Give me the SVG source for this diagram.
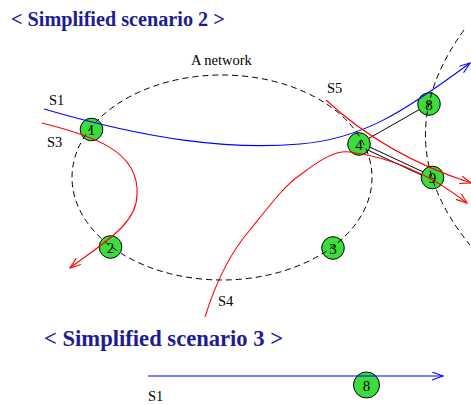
<svg xmlns="http://www.w3.org/2000/svg" width="471" height="405" viewBox="0 0 471 405">
<style>
.title{font-family:"Liberation Serif","Times New Roman",serif;font-weight:bold;fill:#1c1c96}
.lbl{font-family:"Liberation Serif","Times New Roman",serif;font-size:14.5px;fill:#000}
.node circle{fill:#3ddc3d;stroke:#000;stroke-width:1}
.node text{font-family:"Liberation Serif","Times New Roman",serif;font-size:15px;fill:#000;text-anchor:middle}
.dash{fill:none;stroke:#000;stroke-width:1;stroke-dasharray:6 4}
.link{stroke:#000;stroke-width:1;fill:none}
.blue{fill:none;stroke:#0000ff;stroke-width:1.1}
.red{fill:none;stroke:#ff0000;stroke-width:1.1}
</style>
<defs>
<marker id="ab" markerWidth="12" markerHeight="10" refX="11" refY="4" orient="auto" markerUnits="userSpaceOnUse">
<path d="M0,0 L11,4 L0,8" fill="none" stroke="#0000ff" stroke-width="1.1"/>
</marker>
<marker id="ar" markerWidth="12" markerHeight="10" refX="11" refY="4" orient="auto" markerUnits="userSpaceOnUse">
<path d="M0,0 L11,4 L0,8" fill="none" stroke="#ff0000" stroke-width="1.1"/>
</marker>
</defs>
<rect width="471" height="405" fill="#fff"/>
<text class="title" x="11" y="26" font-size="20.2">&lt; Simplified scenario 2 &gt;</text>
<text class="title" x="44" y="346" font-size="22.6">&lt; Simplified scenario 3 &gt;</text>
<text class="lbl" x="191" y="65">A network</text>
<text class="lbl" x="49" y="105">S1</text>
<text class="lbl" x="47" y="147">S3</text>
<text class="lbl" x="327" y="93">S5</text>
<text class="lbl" x="218" y="306">S4</text>
<text class="lbl" x="148" y="401">S1</text>
<g id="links">
<line class="link" x1="359" y1="144" x2="429" y2="104"/>
<line class="link" x1="359.8" y1="142.4" x2="432.8" y2="176.4"/>
<line class="link" x1="358.2" y1="145.6" x2="431.2" y2="179.6"/>
</g>
<g id="node1" class="node"><circle cx="91.5" cy="129.5" r="11.3"/><text x="91.5" y="135">1</text></g>
<g id="node2" class="node"><circle cx="110.5" cy="247" r="11.3"/><text x="110.5" y="252.5">2</text></g>
<g id="node3" class="node"><circle cx="333" cy="248" r="11.3"/><text x="333" y="253.5">3</text></g>
<g id="node4" class="node"><circle cx="359" cy="144" r="11.3"/><text x="359" y="149.5">4</text></g>
<g id="node8" class="node"><circle cx="429" cy="104" r="11.3"/><text x="429" y="109.5">8</text></g>
<g id="node9" class="node"><circle cx="432.5" cy="177.5" r="11.3"/><text x="432.5" y="183">9</text></g>
<g id="node8b" class="node"><circle cx="366.5" cy="385" r="13"/><text x="366.5" y="390.5">8</text></g>
<g id="network">
<ellipse class="dash" cx="222" cy="177.5" rx="150" ry="102.5"/>
<path class="dash" d="M464 30 Q384 140 470 245"/>
</g>
<g id="connectors">
<path id="s1" class="blue" marker-end="url(#ab)" d="M44 109 C150 140 230 150 300 144 C360 139 400 115 470 63"/>
<path id="s3" class="red" marker-end="url(#ar)" d="M42 123 C90 135 140 150 137 195 C137 225 100 245 70 268"/>
<path id="s5" class="red" marker-end="url(#ar)" d="M326 100 Q385 155 471 183"/>
<path id="s4" class="red" marker-end="url(#ar)" d="M205 317 C215 285 228 255 250 230 C270 205 285 185 300 175 C320 160 335 150 350 152 C395 158 435 178 467 203"/>
<path id="s1b" class="blue" marker-end="url(#ab)" d="M148 376 L443 376"/>
</g>
</svg>
